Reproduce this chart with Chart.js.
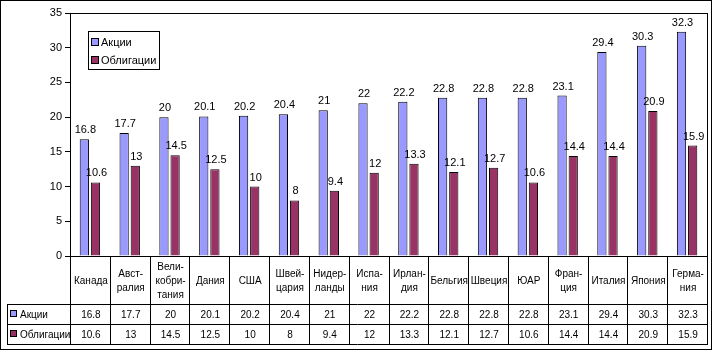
<!DOCTYPE html>
<html><head><meta charset="utf-8">
<script src="https://cdn.jsdelivr.net/npm/chart.js@4/dist/chart.umd.min.js"></script>
<style>html,body{margin:0;padding:0;background:#fff;overflow:hidden}canvas{display:block}</style>
</head><body>
<canvas id="c" width="713" height="351"></canvas>
<script>
const categories = [["Канада"],["Авст-","ралия"],["Вели-","кобри-","тания"],["Дания"],["США"],["Швей-","цария"],["Нидер-","ланды"],["Испа-","ния"],["Ирлан-","дия"],["Бельгия"],["Швеция"],["ЮАР"],["Фран-","ция"],["Италия"],["Япония"],["Герма-","ния"]];
const stocks = [16.8,17.7,20,20.1,20.2,20.4,21,22,22.2,22.8,22.8,22.8,23.1,29.4,30.3,32.3];
const bonds  = [10.6,13,14.5,12.5,10,8,9.4,12,13.3,12.1,12.7,10.6,14.4,14.4,20.9,15.9];
const seriesNames = ["Акции","Облигации"];
const seriesColors = ["#9999FF","#993366"];
const yMin = 0, yMax = 35, yStep = 5;

const FONT = '"Liberation Sans", Arial, sans-serif';

const extras = {
  id: 'extras',
  afterDatasetsDraw(chart) {
    const ctx = chart.ctx;
    ctx.save();
    ctx.fillStyle = '#000';
    ctx.font = '11px ' + FONT;
    ctx.textAlign = 'center';
    ctx.textBaseline = 'alphabetic';
    chart.data.datasets.forEach((ds, di) => {
      const meta = chart.getDatasetMeta(di);
      meta.data.forEach((el, i) => {
        ctx.fillText(String(ds.data[i]), el.x + 1, el.y - 6);
      });
    });
    ctx.restore();
  },
  afterDraw(chart) {
    const ctx = chart.ctx, xs = chart.scales.x, ca = chart.chartArea;
    const L = Math.round(ca.left), R = Math.round(ca.right), T = Math.round(ca.top), B = Math.round(ca.bottom);
    ctx.save();
    ctx.strokeStyle = '#000'; ctx.lineWidth = 1;
    // plot frame
    ctx.strokeRect(L + 0.5, T + 0.5, R - L, B - T);
    // outer border
    ctx.strokeRect(0.5, 0.5, 711, 349);

    // data table
    const n = categories.length;
    const cw = (xs.right - xs.left) / n;
    const tLeft = 7, r1 = B + 48, r2 = r1 + 20, r3 = r2 + 20;
    ctx.beginPath();
    for (let i = 0; i <= n; i++) {
      const x = Math.round(xs.getPixelForValue(i) - cw / 2) + 0.5;
      ctx.moveTo(x, B); ctx.lineTo(x, r3);
    }
    ctx.moveTo(tLeft + 0.5, r1); ctx.lineTo(tLeft + 0.5, r3 + 0.5);
    [r1, r2, r3].forEach(y => { ctx.moveTo(tLeft, y + 0.5); ctx.lineTo(R + 1, y + 0.5); });
    ctx.stroke();

    ctx.fillStyle = '#000';
    ctx.font = '10px ' + FONT;
    ctx.textAlign = 'center';
    ctx.textBaseline = 'middle';
    const rows = [stocks, bonds];
    categories.forEach((lines, i) => {
      const cx = xs.getPixelForValue(i) + 1;
      const lh = 14;
      const mid = (B + r1) / 2 + 1;
      lines.forEach((t, k) => {
        ctx.fillText(t, cx, mid + (k - (lines.length - 1) / 2) * lh);
      });
      rows.forEach((row, ri) => {
        ctx.fillText(String(row[i]), cx, (ri === 0 ? (r1 + r2) : (r2 + r3)) / 2 + 1);
      });
    });
    // row headers
    ctx.textAlign = 'left';
    seriesNames.forEach((name, ri) => {
      const cy = ri === 0 ? (r1 + r2) / 2 : (r2 + r3) / 2;
      ctx.fillStyle = seriesColors[ri];
      ctx.fillRect(10.5, Math.round(cy) - 3.5, 6, 6);
      ctx.strokeRect(10.5, Math.round(cy) - 3.5, 6, 6);
      ctx.fillStyle = '#000';
      ctx.fillText(name, 20, cy + 1);
    });

    // legend
    const lx = 88, ly = 31, lw = 71, lh2 = 38;
    ctx.fillStyle = '#fff';
    ctx.fillRect(lx, ly, lw, lh2);
    ctx.strokeRect(lx + 0.5, ly + 0.5, lw, lh2);
    ctx.font = '11px ' + FONT;
    seriesNames.forEach((name, ri) => {
      const cy = ly + 11 + ri * 18;
      ctx.fillStyle = seriesColors[ri];
      ctx.fillRect(91.5, cy - 3.5, 7, 7);
      ctx.strokeRect(91.5, cy - 3.5, 7, 7);
      ctx.fillStyle = '#000';
      ctx.fillText(name, 101, cy + 1);
    });
    ctx.restore();
  }
};

new Chart(document.getElementById('c'), {
  type: 'bar',
  data: {
    labels: categories,
    datasets: [
      { label: seriesNames[0], data: stocks, backgroundColor: seriesColors[0], borderColor: '#000', borderWidth: 1, borderSkipped: 'start' },
      { label: seriesNames[1], data: bonds, backgroundColor: seriesColors[1], borderColor: '#000', borderWidth: 1, borderSkipped: 'start' }
    ]
  },
  options: {
    responsive: false,
    animation: false,
    devicePixelRatio: 1,
    layout: { padding: { top: 13, right: 6, left: 0, bottom: 0 } },
    plugins: { legend: { display: false }, tooltip: { enabled: false } },
    datasets: { bar: { categoryPercentage: 0.56, barPercentage: 0.83 } },
    scales: {
      x: {
        grid: { display: false },
        ticks: { display: false },
        border: { display: true, color: '#000' },
        afterFit(s) { s.height = 95; }
      },
      y: {
        min: yMin, max: yMax,
        ticks: { stepSize: yStep, color: '#000', font: { family: FONT, size: 11 }, padding: 3 },
        grid: { drawOnChartArea: false, drawTicks: true, tickLength: 5, color: '#000' },
        border: { display: true, color: '#000' },
        afterFit(s) { s.width = 70; }
      }
    }
  },
  plugins: [extras]
});
</script>
</body></html>
